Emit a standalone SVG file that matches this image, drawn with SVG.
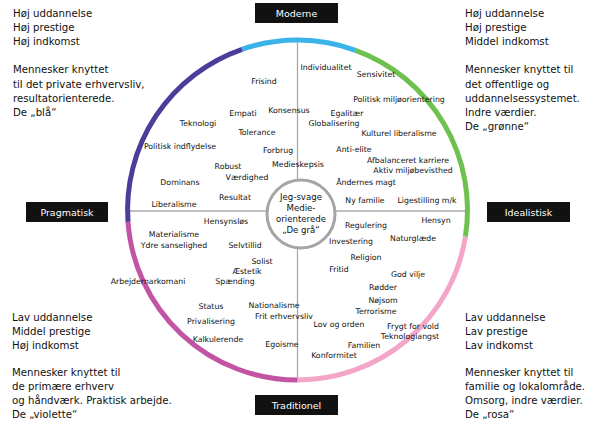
<svg xmlns="http://www.w3.org/2000/svg" width="599" height="425" viewBox="0 0 599 425">
<style>
.lbl{font-family:"DejaVu Sans",Verdana,sans-serif;font-size:7.8px;fill:#111;text-anchor:middle}
.crn{font-family:"DejaVu Sans",Verdana,sans-serif;font-size:10.2px;fill:#111}
.box{fill:#111}
.boxt{font-family:"DejaVu Sans",Verdana,sans-serif;font-size:9.5px;fill:#fff;text-anchor:middle}
.axis{stroke:#aaa;stroke-width:1.3;fill:none}
.ring{fill:none;stroke-width:5}
.ctr{font-family:"DejaVu Sans",Verdana,sans-serif;font-size:8.6px;fill:#111;text-anchor:middle}
</style>
<rect width="599" height="425" fill="#fff"/>
<g id="connectors">
<line class="axis" x1="297.5" y1="42" x2="297.5" y2="378"/>
<line class="axis" x1="130" y1="211" x2="465" y2="211"/>
</g>
<g id="ring">
<path class="ring" stroke="#3ab4e8" d="M242.1 49.3 A170 170 0 0 1 355.6 50.3"/>
<path class="ring" stroke="#6ec14f" d="M355.6 50.3 A170 170 0 0 1 465.4 236.6"/>
<path class="ring" stroke="#f4a6c8" d="M465.4 236.6 A170 170 0 0 1 297.5 380"/>
<path class="ring" stroke="#c254a4" d="M297.5 380 A170 170 0 0 1 128 221.9"/>
<path class="ring" stroke="#4b3d9a" d="M128 221.9 A170 170 0 0 1 242.1 49.3"/>
</g>
<g id="center">
<circle cx="301" cy="214" r="34" fill="#fff" stroke="#a5a5a5" stroke-width="3"/>
<text class="ctr" x="301" y="200">Jeg-svage</text>
<text class="ctr" x="301" y="211">Medie-</text>
<text class="ctr" x="301" y="222">orienterede</text>
<text class="ctr" x="301" y="233">„De grå“</text>
</g>
<g id="moderne"><rect class="box" x="255" y="3" width="83" height="20"/><text class="boxt" x="296.5" y="16.5">Moderne</text></g>
<g id="traditionel"><rect class="box" x="255" y="395" width="83" height="20"/><text class="boxt" x="296.5" y="408.5">Traditionel</text></g>
<g id="pragmatisk"><rect class="box" x="26" y="202" width="82" height="20"/><text class="boxt" x="67" y="215.5">Pragmatisk</text></g>
<g id="idealistisk"><rect class="box" x="487" y="202" width="83" height="20"/><text class="boxt" x="528.5" y="215.5">Idealistisk</text></g>
<g id="corner-tl">
<text class="crn" x="13" y="16.5">Høj uddannelse</text>
<text class="crn" x="13" y="30.7">Høj prestige</text>
<text class="crn" x="13" y="44.9">Høj indkomst</text>
<text class="crn" x="13" y="73.3">Mennesker knyttet</text>
<text class="crn" x="13" y="87.5">til det private erhvervsliv,</text>
<text class="crn" x="13" y="101.7">resultatorienterede.</text>
<text class="crn" x="13" y="115.9">De „blå“</text>
</g>
<g id="corner-tr">
<text class="crn" x="465" y="16.5">Høj uddannelse</text>
<text class="crn" x="465" y="30.7">Høj prestige</text>
<text class="crn" x="465" y="44.9">Middel indkomst</text>
<text class="crn" x="465" y="73.3">Mennesker knyttet til</text>
<text class="crn" x="465" y="87.5">det offentlige og</text>
<text class="crn" x="465" y="101.7">uddannelsessystemet.</text>
<text class="crn" x="465" y="115.9">Indre værdier.</text>
<text class="crn" x="465" y="130.1">De „grønne“</text>
</g>
<g id="corner-bl">
<text class="crn" x="12" y="321">Lav uddannelse</text>
<text class="crn" x="12" y="335">Middel prestige</text>
<text class="crn" x="12" y="349">Høj indkomst</text>
<text class="crn" x="12" y="376">Mennesker knyttet til</text>
<text class="crn" x="12" y="390">de primære erhverv</text>
<text class="crn" x="12" y="404">og håndværk. Praktisk arbejde.</text>
<text class="crn" x="12" y="418">De „violette“</text>
</g>
<g id="corner-br">
<text class="crn" x="465" y="321">Lav uddannelse</text>
<text class="crn" x="465" y="335">Lav prestige</text>
<text class="crn" x="465" y="349">Lav indkomst</text>
<text class="crn" x="465" y="376">Mennesker knyttet til</text>
<text class="crn" x="465" y="390">familie og lokalområde.</text>
<text class="crn" x="465" y="404">Omsorg, indre værdier.</text>
<text class="crn" x="465" y="418">De „rosa“</text>
</g>
<g id="labels">
<text class="lbl" x="264" y="83.8">Frisind</text>
<text class="lbl" x="326" y="69.8">Individualitet</text>
<text class="lbl" x="376" y="76.8">Sensivitet</text>
<text class="lbl" x="399" y="101.8">Politisk miljøorientering</text>
<text class="lbl" x="243" y="115.8">Empati</text>
<text class="lbl" x="289" y="112.8">Konsensus</text>
<text class="lbl" x="347" y="115.8">Egalitær</text>
<text class="lbl" x="198" y="125.8">Teknologi</text>
<text class="lbl" x="334" y="125.8">Globalisering</text>
<text class="lbl" x="257" y="134.8">Tolerance</text>
<text class="lbl" x="399" y="135.8">Kulturel liberalisme</text>
<text class="lbl" x="180" y="148.8">Politisk indflydelse</text>
<text class="lbl" x="278" y="152.8">Forbrug</text>
<text class="lbl" x="354" y="151.8">Anti-elite</text>
<text class="lbl" x="408" y="162.8">Afbalanceret karriere</text>
<text class="lbl" x="298" y="166.8">Medieskepsis</text>
<text class="lbl" x="228" y="168.8">Robust</text>
<text class="lbl" x="413" y="172.8">Aktiv miljøbevisthed</text>
<text class="lbl" x="247" y="179.8">Værdighed</text>
<text class="lbl" x="180" y="184.8">Dominans</text>
<text class="lbl" x="366" y="184.8">Åndernes magt</text>
<text class="lbl" x="235" y="199.8">Resultat</text>
<text class="lbl" x="365" y="202.8">Ny familie</text>
<text class="lbl" x="427" y="202.8">Ligestilling m/k</text>
<text class="lbl" x="174" y="206.8">Liberalisme</text>
<text class="lbl" x="226" y="223.8">Hensynsløs</text>
<text class="lbl" x="436" y="222.8">Hensyn</text>
<text class="lbl" x="366" y="227.8">Regulering</text>
<text class="lbl" x="174" y="236.8">Materialisme</text>
<text class="lbl" x="413" y="240.8">Naturglæde</text>
<text class="lbl" x="351" y="243.8">Investering</text>
<text class="lbl" x="174" y="247.8">Ydre sanselighed</text>
<text class="lbl" x="245" y="247.8">Selvtillid</text>
<text class="lbl" x="366" y="259.8">Religion</text>
<text class="lbl" x="262" y="263.8">Solist</text>
<text class="lbl" x="339" y="271.8">Fritid</text>
<text class="lbl" x="247" y="273.8">Æstetik</text>
<text class="lbl" x="408" y="276.8">God vilje</text>
<text class="lbl" x="148" y="283.8">Arbejdernarkomani</text>
<text class="lbl" x="235" y="283.8">Spænding</text>
<text class="lbl" x="383" y="289.8">Rødder</text>
<text class="lbl" x="383" y="302.8">Nøjsom</text>
<text class="lbl" x="274" y="307.8">Nationalisme</text>
<text class="lbl" x="211" y="308.8">Status</text>
<text class="lbl" x="376" y="313.8">Terrorisme</text>
<text class="lbl" x="284" y="318.8">Frit erhvervsliv</text>
<text class="lbl" x="211" y="323.8">Privalisering</text>
<text class="lbl" x="339" y="326.8">Lov og orden</text>
<text class="lbl" x="413" y="328.8">Frygt for vold</text>
<text class="lbl" x="410" y="338.8">Teknologiangst</text>
<text class="lbl" x="218" y="341.8">Kalkulerende</text>
<text class="lbl" x="282" y="346.8">Egoisme</text>
<text class="lbl" x="364" y="347.8">Familien</text>
<text class="lbl" x="334" y="357.8">Konformitet</text>
</g>
</svg>
